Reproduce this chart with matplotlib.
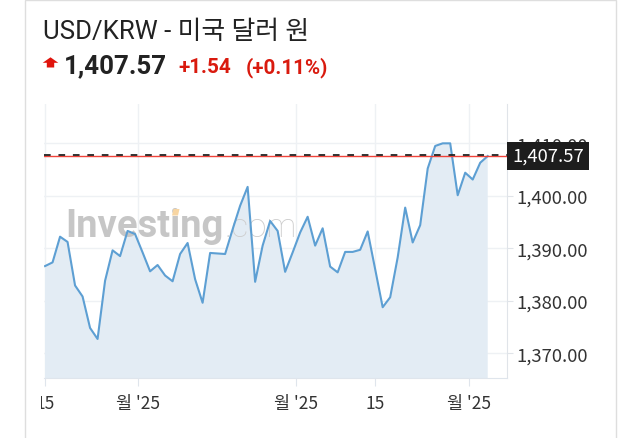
import matplotlib
matplotlib.use("Agg")
import matplotlib.pyplot as plt
from matplotlib.patches import Rectangle, Polygon
from matplotlib.transforms import Bbox, TransformedBbox, blended_transform_factory
from matplotlib.ticker import FixedLocator, FuncFormatter

# ---------------- data ----------------
values = [
    1386.6, 1387.3, 1392.2, 1391.2, 1382.9, 1380.8, 1374.8, 1372.7, 1383.8, 1389.6,
    1388.5, 1393.3, 1392.7, 1389.2, 1385.6, 1386.8, 1384.8, 1383.7, 1388.9, 1391.0,
    1384.1, 1379.6, 1389.1, 1389.0, 1388.9, 1393.6, 1398.1, 1401.7,
    1383.6, 1390.5, 1395.2, 1393.3, 1385.5, 1389.2, 1393.0, 1396.0, 1390.5, 1393.8,
    1386.5, 1385.4, 1389.3, 1389.3, 1389.7, 1393.2, 1386.0, 1378.75, 1380.65, 1388.25,
    1397.75, 1391.1, 1394.4, 1405.2, 1409.5, 1410.0, 1410.0, 1400.1, 1404.4, 1403.1,
    1406.3, 1407.57,
]
last_price = 1407.57
x_tick_pos = [0.0, 12.44, 33.43, 44.0, 56.53]
x_tick_labels = ["15", "월 '25", "월 '25", "15", "월 '25"]
y_ticks = [1370, 1380, 1390, 1400, 1410]
title = "USD/KRW - 미국 달러 원"
price_text = "1,407.57"
change_text = "+1.54"
pct_text = "(+0.11%)"

# ---------------- figure ----------------
W, H = 640, 439
fig = plt.figure(figsize=(W / 100, H / 100), dpi=100)
fig.patch.set_facecolor("white")

def fx(px):
    return px / W

def fy(py):
    return 1 - py / H

LAT = ["Roboto", "Noto Sans CJK KR", "DejaVu Sans"]
CJK = ["Noto Sans CJK KR", "DejaVu Sans"]

# card border
fig.add_artist(Rectangle((fx(25), -0.1), fx(616) - fx(25), fy(0.5) + 0.1,
                         transform=fig.transFigure, fill=False,
                         edgecolor="#dedede", linewidth=1.0))

# header
fig.text(fx(43), fy(39.3), title, family=LAT, fontsize=18.6, color="#222222",
         va="baseline", ha="left")
arrow = [(50.5, 58.3), (58.3, 63.8), (54.2, 63.8), (54.2, 68.5), (46.8, 68.5),
         (46.8, 63.8), (42.7, 63.8)]
fig.add_artist(Polygon([[fx(a), fy(b)] for a, b in arrow], closed=True,
                       transform=fig.transFigure, facecolor="#e0140c",
                       edgecolor="none"))
fig.text(fx(64), fy(73.3), price_text, family=LAT, fontsize=18.6, fontweight="bold",
         color="#222222", va="baseline", ha="left")
fig.text(fx(178), fy(73.3), change_text, family=LAT, fontsize=14.9, fontweight="bold",
         color="#d91a0e", va="baseline", ha="left")
fig.text(fx(246), fy(73.3), pct_text, family=LAT, fontsize=14.9, fontweight="bold",
         color="#d91a0e", va="baseline", ha="left")

# axes
left, right, top, bottom = 44.3, 507.0, 105.0, 379.3
ax = fig.add_axes([fx(left), fy(bottom), fx(right) - fx(left), (bottom - top) / H])
ax.set_facecolor("white")

x = list(range(len(values)))
ax.set_xlim(-0.1, 61.57)
ax.set_ylim(1365.2, 1417.5)

ax.fill_between(x, values, 1300, color="#e3ecf4", zorder=2, linewidth=0)

# watermark
ax.text(0.046, 0.5177, "Investing", transform=ax.transAxes, family=["Roboto"],
        fontsize=27.5, fontweight="bold", color="#c6c6c6", va="baseline", ha="left",
        zorder=2.5)
ax.text(0.39, 0.5177, ".com", transform=ax.transAxes, family=["Roboto"],
        fontsize=24, fontweight="light", color="#cdcdcd", va="baseline", ha="left",
        zorder=2.5)
fig.add_artist(Polygon([[fx(172.0), fy(216.5)], [fx(178.0), fy(216.5)],
                        [fx(179.5), fy(210.0)], [fx(173.5), fy(210.0)]],
                       closed=True, transform=fig.transFigure,
                       facecolor="#f7d5a2", edgecolor="none", zorder=2.6))

ax.plot(x, values, color="#5d9fd3", linewidth=1.5, zorder=3)

# last price lines
ax.axhline(last_price, color="#f0433a", linewidth=1.0, zorder=4)
ax.axhline(last_price + 0.15, color="#222222", linewidth=1.3, zorder=5,
           dashes=(3.7, 4.3))

# ticks / grid
ax.set_xticks(x_tick_pos)
ax.set_xticklabels(x_tick_labels)
ax.yaxis.set_major_locator(FixedLocator(y_ticks))
ax.yaxis.set_major_formatter(FuncFormatter(lambda v, p: f"{v:,.2f}"))
ax.grid(True, color="#eef1f4", linewidth=1.0, zorder=0)
ax.set_axisbelow(True)

for s in ["left", "top"]:
    ax.spines[s].set_visible(False)
ax.spines["bottom"].set_color("#dfe5ec")
ax.spines["right"].set_color("#e0e4e9")
ax.yaxis.tick_right()
ax.tick_params(axis="y", length=4, color="#e0e4e9", pad=3, labelsize=13.3,
               labelcolor="#333333")
ax.tick_params(axis="x", length=5.5, color="#dfe5ec", pad=6, labelsize=12.5,
               labelcolor="#333333")
for lab in ax.get_yticklabels() + ax.get_xticklabels():
    lab.set_family(CJK)

# clip first x label (cut by the card edge in the original)
tk0 = ax.xaxis.get_major_ticks()[0]
tk0.label1.set_clip_box(TransformedBbox(Bbox([[fx(40.5), 0], [1, 1]]), fig.transFigure))
tk0.label1.set_clip_on(True)

# price box
tr = blended_transform_factory(ax.transAxes, ax.transData)
ax.text(1.0 + 5 / (right - left), last_price, price_text, transform=tr,
        family=CJK, fontsize=13.3, color="white", va="center", ha="left",
        zorder=10, clip_on=False,
        bbox=dict(boxstyle="square,pad=0.28", facecolor="#1d1d1d", edgecolor="none"))

fig.savefig("out.png", dpi=100, facecolor="white")
